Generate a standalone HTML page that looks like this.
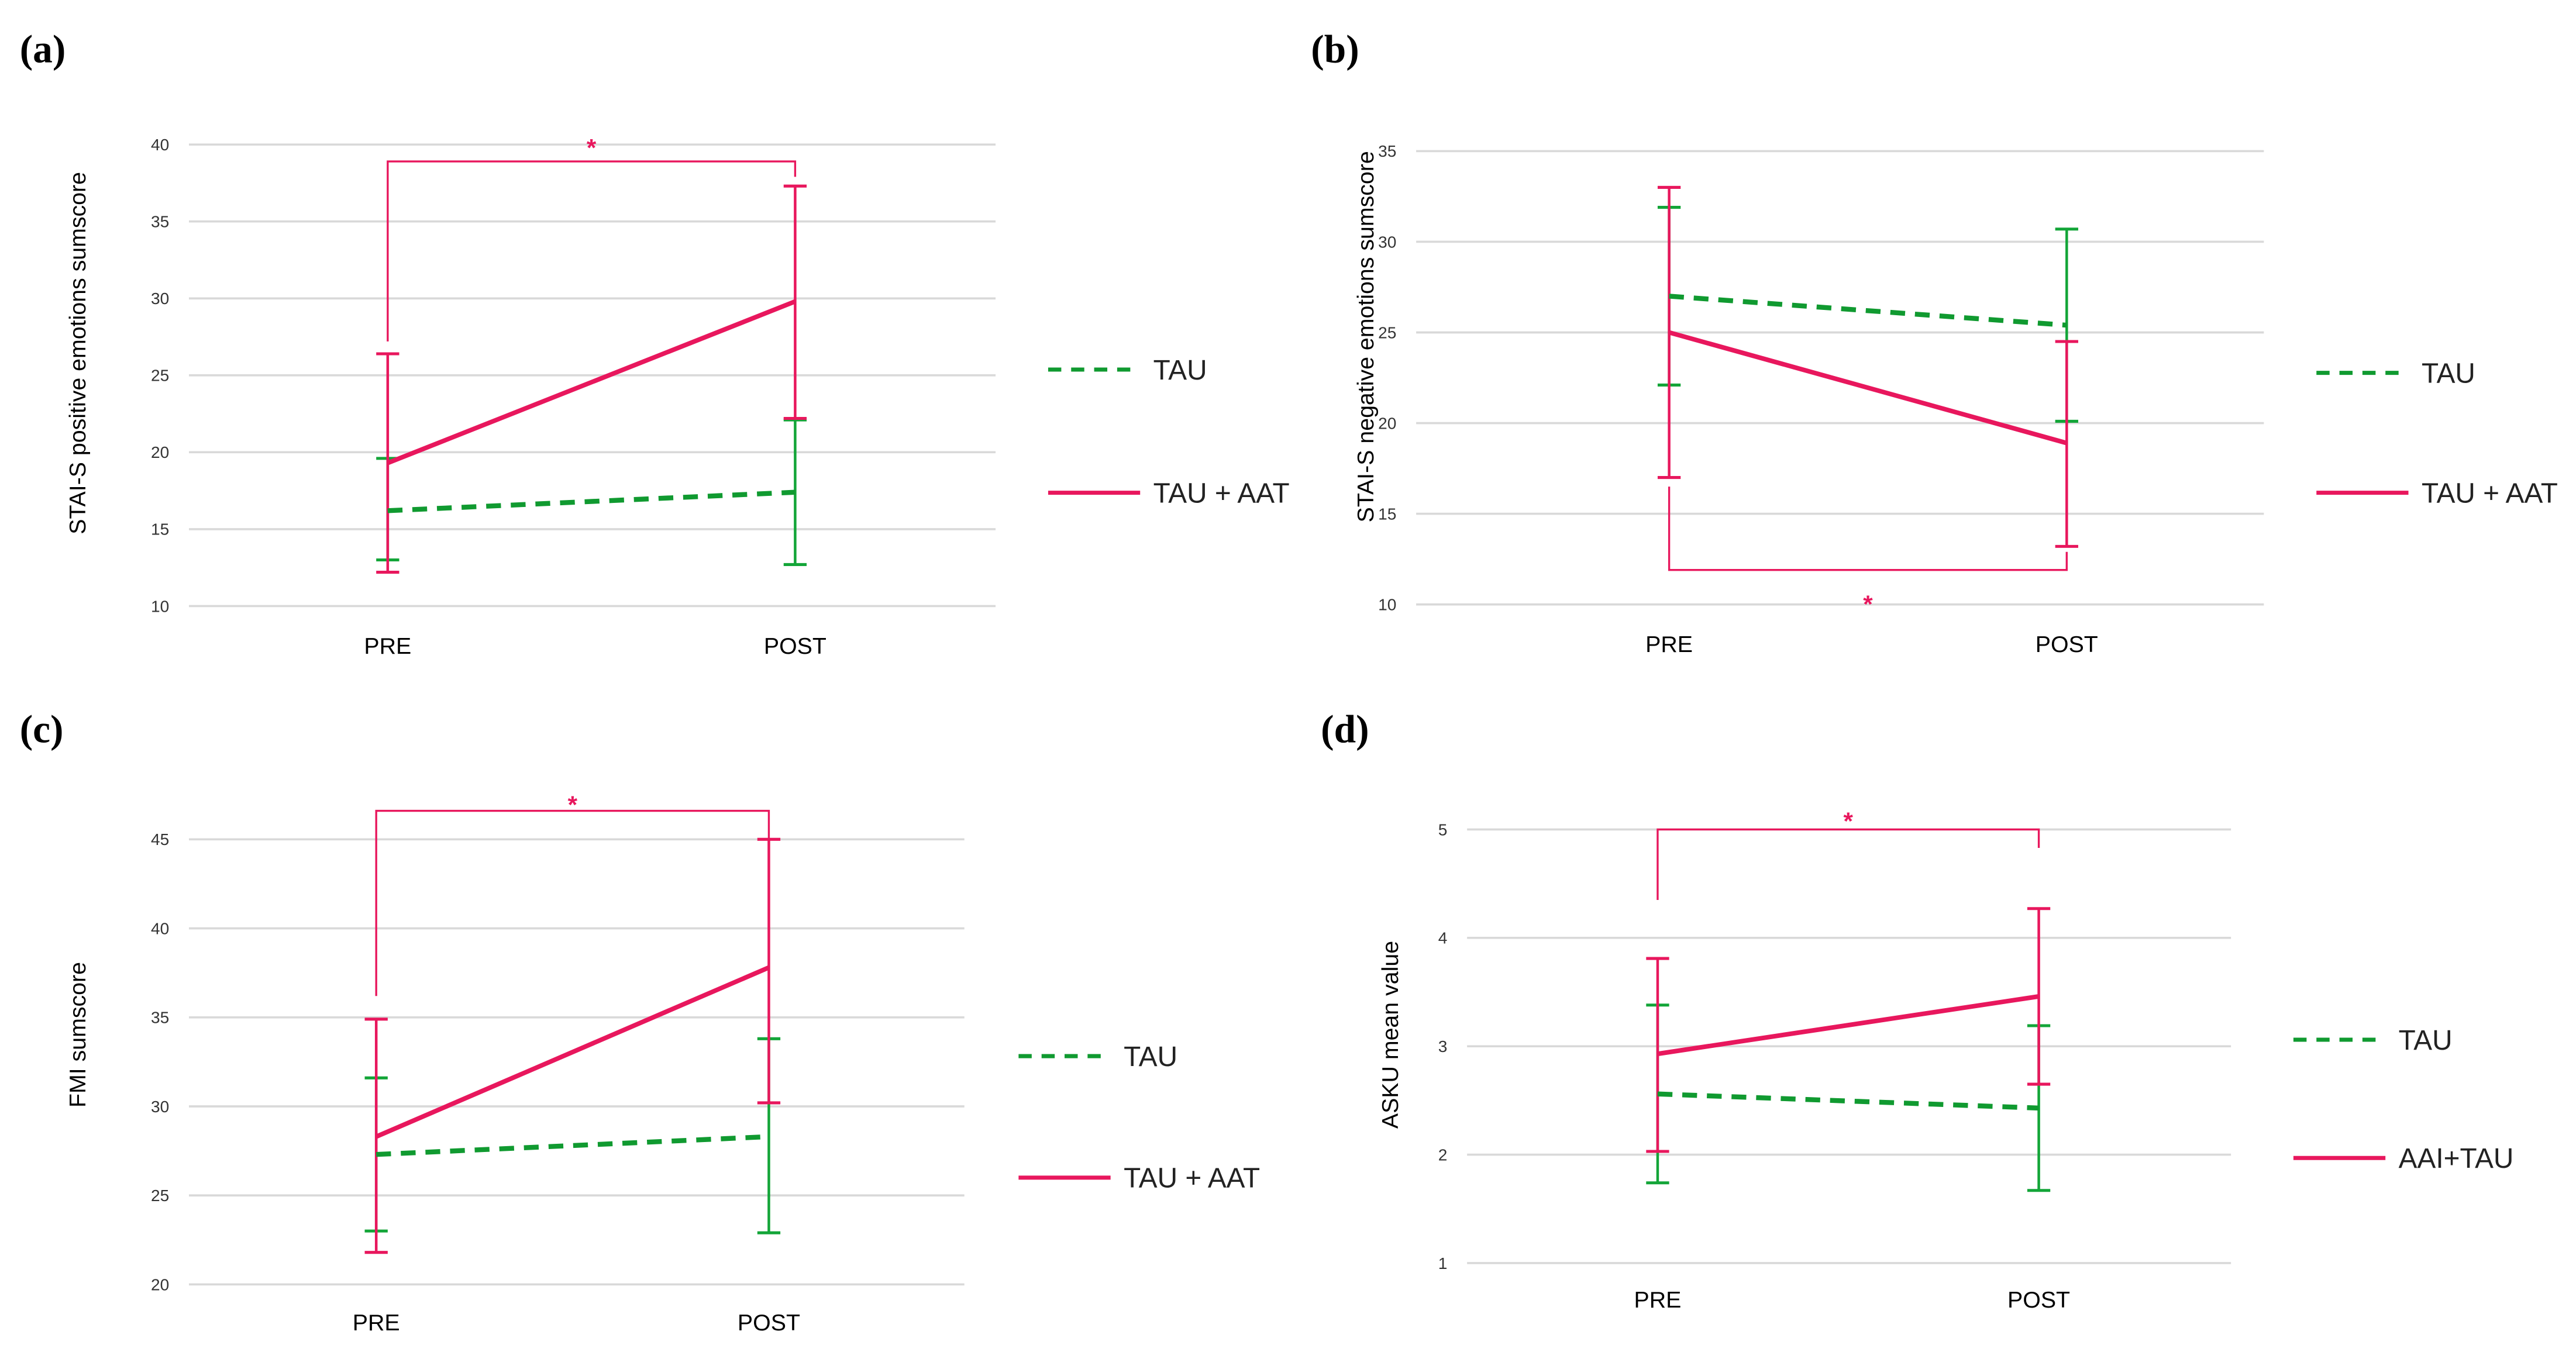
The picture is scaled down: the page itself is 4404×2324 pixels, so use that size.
<!DOCTYPE html>
<html><head><meta charset="utf-8">
<style>
html,body{margin:0;padding:0;background:#fff;}
svg{display:block;}
</style></head>
<body>
<svg id="fig" width="4404" height="2324" viewBox="0 0 1568 827.4" preserveAspectRatio="none" xmlns="http://www.w3.org/2000/svg"></svg>
<script>
// Panel a data
const catsA = ["PRE","POST"];
const tauA = [16.2, 17.4];
const tauLoA = [13.0, 12.7];
const tauHiA = [19.6, 22.1];
const aatA = [19.3, 29.8];
const aatLoA = [12.2, 22.2];
const aatHiA = [26.4, 37.3];
const ticksA = [10,15,20,25,30,35,40];
// Panel b data
const tauB = [27.0, 25.4];
const tauLoB = [22.1, 20.1];
const tauHiB = [31.9, 30.7];
const aatB = [25.0, 18.9];
const aatLoB = [17.0, 13.2];
const aatHiB = [33.0, 24.5];
const ticksB = [10,15,20,25,30,35];
// Panel c data
const tauC = [27.3, 28.3];
const tauLoC = [23.0, 22.9];
const tauHiC = [31.6, 33.8];
const aatC = [28.3, 37.8];
const aatLoC = [21.8, 30.2];
const aatHiC = [34.9, 45.0];
const ticksC = [20,25,30,35,40,45];
// Panel d data
const tauD = [2.56, 2.43];
const tauLoD = [1.74, 1.67];
const tauHiD = [3.38, 3.19];
const aatD = [2.93, 3.46];
const aatLoD = [2.03, 2.65];
const aatHiD = [3.81, 4.27];
const ticksD = [1,2,3,4,5];

const NS="http://www.w3.org/2000/svg";
const svg=document.getElementById('fig');
const PINK="#e8175d", GREEN="#13a538";
function el(tag,attrs,parent){const e=document.createElementNS(NS,tag);for(const k in attrs)e.setAttribute(k,attrs[k]);(parent||svg).appendChild(e);return e;}

function panel(p){
  const g=el('g',{});
  
  
  const y=v=>p.y0+(v-p.vmin)/(p.vmax-p.vmin)*(p.y1-p.y0);
  const xs=[p.xPre,p.xPost];
  const lab=el('text',{x:p.lx,y:p.ly,'font-family':'Liberation Serif, serif','font-size':24,'font-weight':'bold',fill:'#000'},g);
  lab.textContent='('+p.id+')';
  
  
  p.ticks.forEach(t=>{
    const l=el('line',{x1:p.gx0,x2:p.gx1,y1:y(t),y2:y(t),stroke:'#d9d9d9','stroke-width':1.3},g);
    
    
    const tx=el('text',{x:p.gx0-12,y:y(t)+3.5,'text-anchor':'end','font-family':'Liberation Sans, sans-serif','font-size':10,fill:'#333'},g);
    tx.textContent=t;
    
    
  });
  catsA.forEach((c,i)=>{
    const tx=el('text',{x:xs[i],y:p.catY,'text-anchor':'middle','font-family':'Liberation Sans, sans-serif','font-size':14,fill:'#000'},g);
    tx.textContent=c;
    
    
  });
  const yt=el('text',{transform:`translate(${p.ytx},${p.yty}) rotate(-90)`,'text-anchor':'middle','font-family':'Liberation Sans, sans-serif','font-size':14,fill:'#000'},g);
  yt.textContent=p.ytitle;
  
  
  function errs(lo,hi,col,name){
    for(let i=0;i<2;i++){
      const l=el('line',{x1:xs[i],x2:xs[i],y1:y(lo[i]),y2:y(hi[i]),stroke:col,'stroke-width':1.6},g);
      
      
      [lo[i],hi[i]].forEach(v=>{
        const c=el('line',{x1:xs[i]-7,x2:xs[i]+7,y1:y(v),y2:y(v),stroke:col,'stroke-width':1.8},g);
        
        
      });
    }
  }
  errs(p.tauLo,p.tauHi,GREEN,'tau');
  errs(p.aatLo,p.aatHi,PINK,'aat');
  const lt=el('line',{x1:xs[0],x2:xs[1],y1:y(p.tau[0]),y2:y(p.tau[1]),stroke:'#109a30','stroke-width':3,'stroke-dasharray':'9 6'},g);
  
  
  const la=el('line',{x1:xs[0],x2:xs[1],y1:y(p.aat[0]),y2:y(p.aat[1]),stroke:PINK,'stroke-width':2.8},g);
  
  
  // significance bracket
  const b=p.br;
  const br=el('path',{d:`M${xs[0]},${y(b.l)} L${xs[0]},${y(b.h)} L${xs[1]},${y(b.h)} L${xs[1]},${y(b.r)}`,fill:'none',stroke:PINK,'stroke-width':1.2},g);
  
  
  const st=el('text',{x:(xs[0]+xs[1])/2,y:b.sy,'text-anchor':'middle','font-family':'Liberation Sans, sans-serif','font-size':15,'font-weight':'bold',fill:PINK},g);
  st.textContent='*';
  
  
  // legend
  const l1=el('line',{x1:p.legX,x2:p.legX+56,y1:p.leg1,y2:p.leg1,stroke:'#109a30','stroke-width':2.5,'stroke-dasharray':'8 6'},g);
  
  
  const t1=el('text',{x:p.legX+64,y:p.leg1+6,'font-family':'Liberation Sans, sans-serif','font-size':17,fill:'#222'},g);
  t1.textContent='TAU';
  
  
  const l2=el('line',{x1:p.legX,x2:p.legX+56,y1:p.leg2,y2:p.leg2,stroke:PINK,'stroke-width':2.5},g);
  
  
  const t2=el('text',{x:p.legX+64,y:p.leg2+6,'font-family':'Liberation Sans, sans-serif','font-size':17,fill:'#222'},g);
  t2.textContent=p.leg2Text;
  
  
}

panel({id:'a',lx:12,ly:38,gx0:115,gx1:606,y0:369,y1:88,vmin:10,vmax:40,ticks:ticksA,xPre:236,xPost:484,catY:398,
  ytx:52,yty:215,ytitle:'STAI-S positive  emotions sumscore',
  tau:tauA,tauLo:tauLoA,tauHi:tauHiA,aat:aatA,aatLo:aatLoA,aatHi:aatHiA,
  br:{l:27.2,h:38.9,r:37.9,sy:95},legX:638,leg1:225,leg2:300,leg2Text:'TAU + AAT'});
panel({id:'b',lx:798,ly:38,gx0:862,gx1:1378,y0:368,y1:92,vmin:10,vmax:35,ticks:ticksB,xPre:1016,xPost:1258,catY:397,
  ytx:836,yty:205,ytitle:'STAI-S negative emotions sumscore',
  tau:tauB,tauLo:tauLoB,tauHi:tauHiB,aat:aatB,aatLo:aatLoB,aatHi:aatHiB,
  br:{l:16.5,h:11.9,r:12.9,sy:373},legX:1410,leg1:227,leg2:300,leg2Text:'TAU + AAT'});
panel({id:'c',lx:12,ly:452,gx0:115,gx1:587,y0:782,y1:511,vmin:20,vmax:45,ticks:ticksC,xPre:229,xPost:468,catY:810,
  ytx:52,yty:630,ytitle:'FMI sumscore',
  tau:tauC,tauLo:tauLoC,tauHi:tauHiC,aat:aatC,aatLo:aatLoC,aatHi:aatHiC,
  br:{l:36.2,h:46.6,r:45.0,sy:495},legX:620,leg1:643,leg2:717,leg2Text:'TAU + AAT'});
panel({id:'d',lx:804,ly:452,gx0:893,gx1:1358,y0:769,y1:505,vmin:1,vmax:5,ticks:ticksD,xPre:1009,xPost:1241,catY:796,
  ytx:851,yty:630,ytitle:'ASKU mean value',
  tau:tauD,tauLo:tauLoD,tauHi:tauHiD,aat:aatD,aatLo:aatLoD,aatHi:aatHiD,
  br:{l:4.35,h:5.0,r:4.83,sy:505},legX:1396,leg1:633,leg2:705,leg2Text:'AAI+TAU'});
</script>
</body></html>
